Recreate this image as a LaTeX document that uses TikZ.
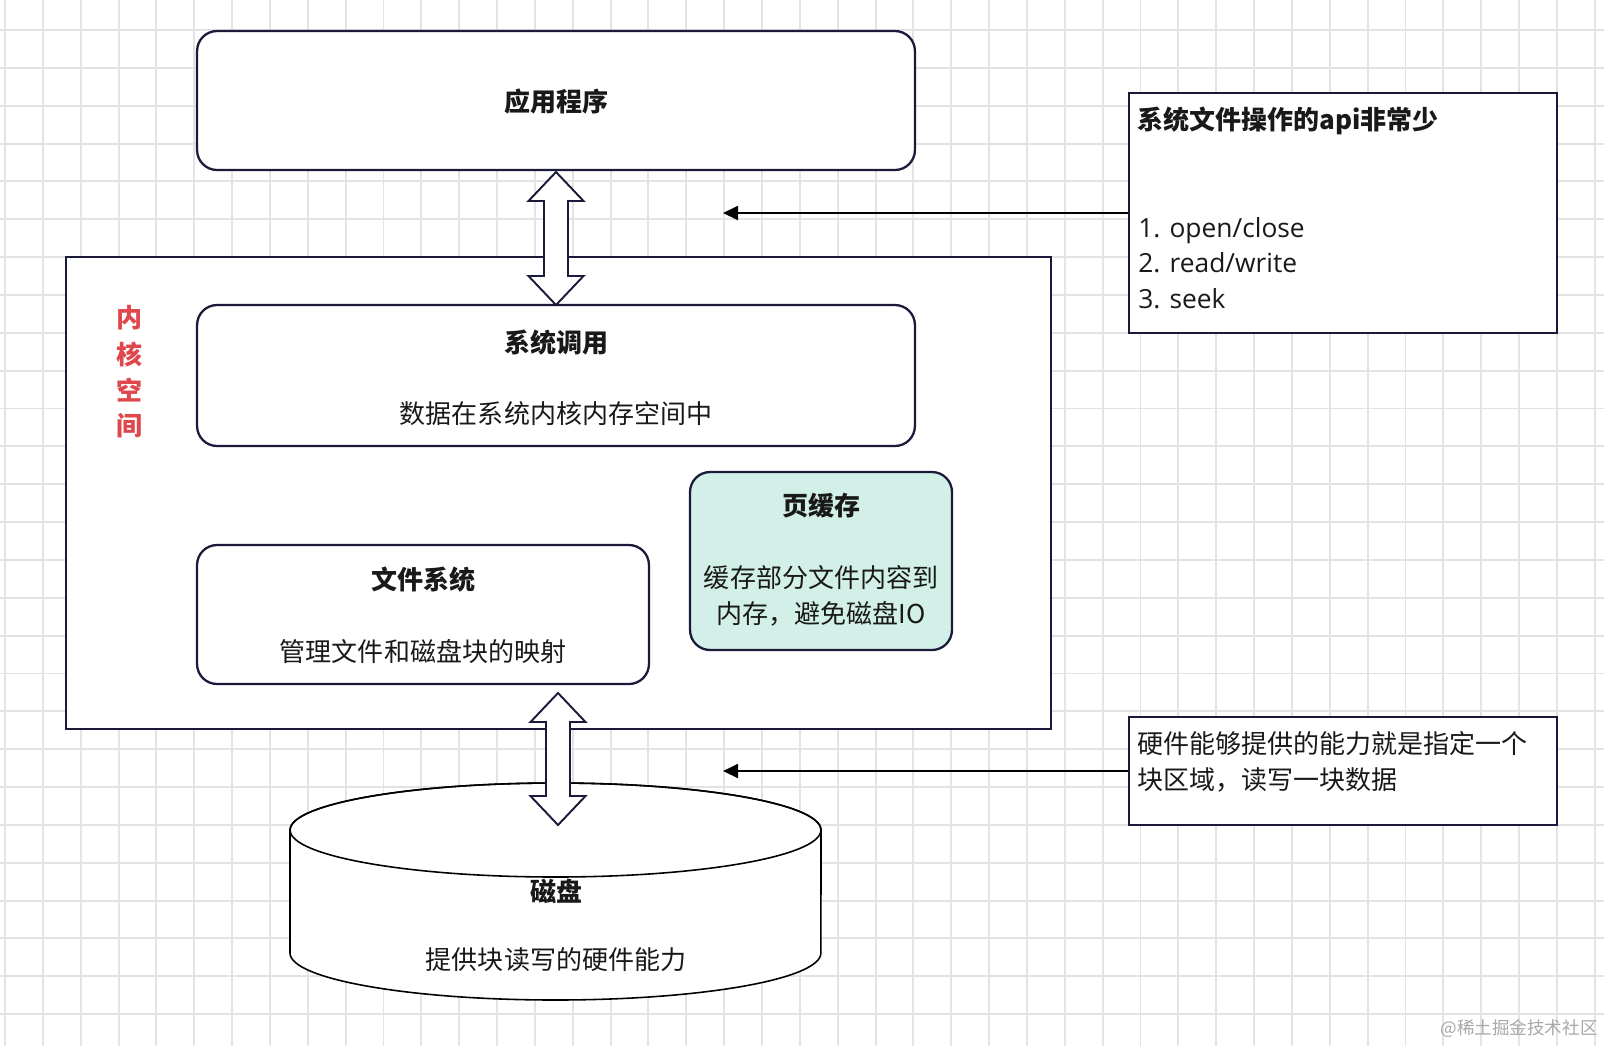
\documentclass[tikz,border=0pt]{standalone}
\usepackage{fontspec}
\setmainfont{Noto Sans CJK SC}
\newfontfamily\latinfont{Open Sans}
\usetikzlibrary{arrows.meta,calc}

\definecolor{boxline}{HTML}{1A1A3A}
\definecolor{cachefill}{HTML}{D2F0E8}
\definecolor{kernelred}{HTML}{E0474C}
\definecolor{gridline}{HTML}{E3E3E3}
\definecolor{marktext}{HTML}{A8A8A8}

\tikzset{
  roundbox/.style={draw=boxline, line width=1.3pt, fill=white, rounded corners=0.4cm, inner sep=0pt},
  squarebox/.style={draw=boxline, line width=1.3pt, fill=white, inner sep=0pt},
  boxtitle/.style={font=\fontsize{14.8}{18}\selectfont\bfseries, text=black!90, inner sep=0pt},
  boxtext/.style={font=\fontsize{14.8}{18}\selectfont, text=black!90, inner sep=0pt},
  listtext/.style={font=\latinfont\fontsize{15}{18}\selectfont, text=black!90, inner sep=0pt, anchor=base west},
  kerneltag/.style={font=\fontsize{14.8}{18}\selectfont\bfseries, text=kernelred, inner sep=0pt},
  watermark/.style={font=\fontsize{10}{12}\selectfont, text=marktext, inner sep=0pt},
  pointer/.style={-{Triangle[length=0.3cm,width=0.28cm]}, line width=1.1pt, black},
  flexarrow/.style={draw=boxline, line width=1.1pt, fill=white, line join=miter},
}

% double-headed hollow arrow between two points (top, bottom)
\newcommand{\dblarrow}[2]{%
  \draw[flexarrow] (#1) -- ($(#1)+(27.5,29)$) -- ($(#1)+(12,29)$)
    -- ($(#2)+(12,-29)$) -- ($(#2)+(27.5,-29)$) -- (#2)
    -- ($(#2)+(-27.5,-29)$) -- ($(#2)+(-12,-29)$)
    -- ($(#1)+(-12,29)$) -- ($(#1)+(-27.5,29)$) -- cycle;}

\begin{document}
\begin{tikzpicture}[x=0.02cm, y=-0.02cm]
    \useasboundingbox (0,0) rectangle (1604,1046);
    \fill[white] (0,0) rectangle (1604,1046);

    % Draw background grid
    \foreach \i in {0,...,42} {
        \pgfmathsetmacro{\gx}{5+37.85*\i}
        \draw[gridline, line width=1.1pt] (\gx,0) -- (\gx,1046);
    }
    \foreach \j in {0,...,26} {
        \pgfmathsetmacro{\gy}{30+37.85*\j}
        \draw[gridline, line width=1.1pt] (0,\gy) -- (1604,\gy);
    }

    % User space
    \node[roundbox, minimum width=14.36cm, minimum height=2.78cm] (app) at (556,100.5) {};
    \node[boxtitle] (apptitle) at (556,102) {应用程序};

    % Kernel space
    \node[squarebox, minimum width=19.7cm, minimum height=9.44cm] (kernel) at (558.5,493) {};
    \foreach \ch [count=\i] in {内,核,空,间} {
        \node[kerneltag] (tag\i) at (129,282+36*\i) {\ch};
    }

    \node[roundbox, minimum width=14.36cm, minimum height=2.82cm] (sys) at (556,375.5) {};
    \node[boxtitle] (systitle) at (556,343) {系统调用};
    \node[boxtext] (systext) at (556,414) {数据在系统内核内存空间中};

    \node[roundbox, minimum width=9.04cm, minimum height=2.78cm] (fs) at (423,614.5) {};
    \node[boxtitle] (fstitle) at (423,580) {文件系统};
    \node[boxtext] (fstext) at (423,652) {管理文件和磁盘块的映射};

    \node[roundbox, fill=cachefill, minimum width=5.24cm, minimum height=3.56cm] (cache) at (821,561) {};
    \node[boxtitle] (cachetitle) at (821,506) {页缓存};
    \node[boxtext] (cachetext1) at (821,578) {缓存部分文件内容到};
    \node[boxtext] (cachetext2) at (821,614) {内存，避免磁盘IO};

    % Disk
    \filldraw[fill=white, draw=black, line width=0.9pt] (290,830) -- (290,953)
        arc[start angle=180, end angle=360, x radius=5.31cm, y radius=0.94cm]
        -- (821,830)
        arc[start angle=0, end angle=180, x radius=5.31cm, y radius=0.94cm] -- cycle;
    \draw[black, line width=0.9pt] (555.5,830) ellipse [x radius=5.31cm, y radius=0.94cm];
    \node[boxtitle] (disktitle) at (556,891) {磁盘};
    \node[boxtext] (disktext) at (556,960) {提供块读写的硬件能力};

    % Notes on the right
    \node[squarebox, minimum width=8.56cm, minimum height=4.8cm] (api) at (1343,213) {};
    \node[boxtitle, anchor=west] (apititle) at (1137,121) {系统文件操作的api非常少};
    \node[listtext] (api1) at (1138,237) {1. open/close};
    \node[listtext] (api2) at (1138,272) {2. read/write};
    \node[listtext] (api3) at (1138,308) {3. seek};

    \node[squarebox, minimum width=8.56cm, minimum height=2.16cm] (hw) at (1343,771) {};
    \node[boxtext, anchor=west] (hwtext1) at (1137,744) {硬件能够提供的能力就是指定一个};
    \node[boxtext, anchor=west] (hwtext2) at (1137,780) {块区域，读写一块数据};

    % Connectors
    \coordinate (apitip) at (723,213);
    \coordinate (hwtip) at (723,771);
    \draw[pointer] (api.west) -- (apitip);
    \draw[pointer] (hw.west) -- (hwtip);

    \coordinate (appio) at (556,172);
    \coordinate (sysio) at (556,305);
    \coordinate (fsio) at (558,693);
    \coordinate (diskio) at (558,825);
    \dblarrow{appio}{sysio}
    \dblarrow{fsio}{diskio}

    \node[watermark] (mark) at (1519,1029) {@稀土掘金技术社区};
\end{tikzpicture}
\end{document}
